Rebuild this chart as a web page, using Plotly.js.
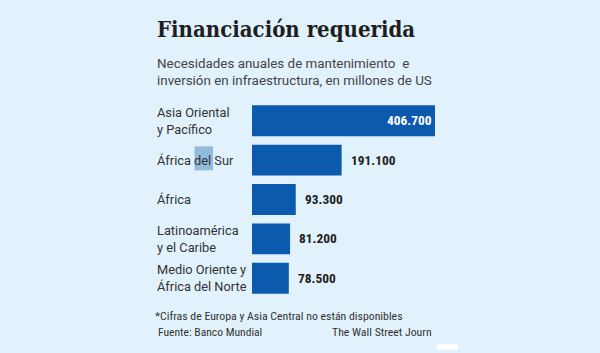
<!DOCTYPE html>
<html>
<head>
<meta charset="utf-8">
<script src="https://cdn.plot.ly/plotly-3.0.1.min.js"></script>
<style>html,body{margin:0;padding:0;background:#e1f2fc;}#chart{width:600px;height:353px;}</style>
</head>
<body>
<div id="chart"></div>
<script>
var categories = ["Asia Oriental<br>y Pacífico", "África del Sur", "África", "Latinoamérica<br>y el Caribe", "Medio Oriente y<br>África del Norte"];
var values = [406700, 191100, 93300, 81200, 78500];
var valueLabels = ["406.700", "191.100", "93.300", "81.200", "78.500"];

var BG = "#e1f2fc";
var BAR = "#0b5aad";
var W = 600, H = 353;
var L = 252, R = 435, T = 100.5, B = 298;
var pw = R - L, ph = B - T;
var XMAX = pw / 0.000469;
function px(x){ return (x - L) / pw; }
function py(y){ return (B - y) / ph; }

var cond = "'Roboto Condensed', 'Open Sans Condensed', 'Liberation Sans', sans-serif";
var sans = "Roboto, 'Liberation Sans', Arial, sans-serif";

var annotations = [];
categories.forEach(function(c, i){
  annotations.push({xref:"paper", yref:"y", x:px(155), y:c, xanchor:"left", yanchor:"middle",
    text:c, showarrow:false, align:"left", font:{family:sans, size:12.8, color:"#333333"}});
});
values.forEach(function(v, i){
  var inside = v > XMAX;
  annotations.push({xref:"x", yref:"y", x: inside ? XMAX * 0.9995 : v, y:categories[i],
    xanchor: inside ? "right" : "left", yanchor:"middle",
    xshift: inside ? -1 : 7, text:"<b>"+valueLabels[i]+"</b>", showarrow:false,
    font:{family:cond, size:13.4, color: inside ? "#ffffff" : "#222222"}});
});
annotations.push({xref:"paper", yref:"paper", x:px(155), y:py(71.5), xanchor:"left", yanchor:"middle", align:"left",
  text:"Necesidades anuales de mantenimiento  e<br>inversión en infraestructura, en millones de US", showarrow:false,
  font:{family:sans, size:13.4, color:"#444444"}});
annotations.push({xref:"paper", yref:"paper", x:px(153), y:py(316), xanchor:"left", yanchor:"middle",
  text:"*Cifras de Europa y Asia Central no están disponibles", showarrow:false,
  font:{family:cond, size:11.8, color:"#333333"}});
annotations.push({xref:"paper", yref:"paper", x:px(156), y:py(332), xanchor:"left", yanchor:"middle",
  text:"Fuente: Banco Mundial", showarrow:false, font:{family:cond, size:11.6, color:"#333333"}});
annotations.push({xref:"paper", yref:"paper", x:px(329.5), y:py(332), xanchor:"left", yanchor:"middle",
  text:"The Wall Street Journ", showarrow:false, font:{family:cond, size:11.8, color:"#333333"}});

var data = [{
  type:"bar", orientation:"h", x:values, y:categories,
  marker:{color:BAR, line:{width:0}}, hoverinfo:"none"
}];

var layout = {
  width:W, height:H, paper_bgcolor:BG, plot_bgcolor:BG,
  margin:{l:L, r:W-R, t:T, b:H-B, pad:0},
  showlegend:false, bargap:0.215,
  title:{text:"<b>Financiación requerida</b>", x:157/W, xanchor:"left", xref:"container",
    y:1-29/H, yanchor:"middle", yref:"container",
    font:{family:"'DejaVu Serif Condensed', 'DejaVu Serif', serif", size:22, color:"#1e1e1e"}},
  xaxis:{range:[0, XMAX], visible:false, fixedrange:true},
  yaxis:{autorange:"reversed", visible:false, fixedrange:true},
  annotations:annotations,
  shapes:[
    {type:"rect", xref:"paper", yref:"paper", x0:px(194.5), x1:px(213), y0:py(170), y1:py(146),
      fillcolor:"#93bbdb", line:{width:0}, layer:"below"},
    {type:"rect", xref:"paper", yref:"paper", x0:px(436.5), x1:px(458), y0:py(350), y1:py(344.5),
      fillcolor:"#ffffff", line:{width:0}, layer:"above"}
  ]
};
Plotly.newPlot("chart", data, layout, {staticPlot:true, displayModeBar:false});
</script>
</body>
</html>
